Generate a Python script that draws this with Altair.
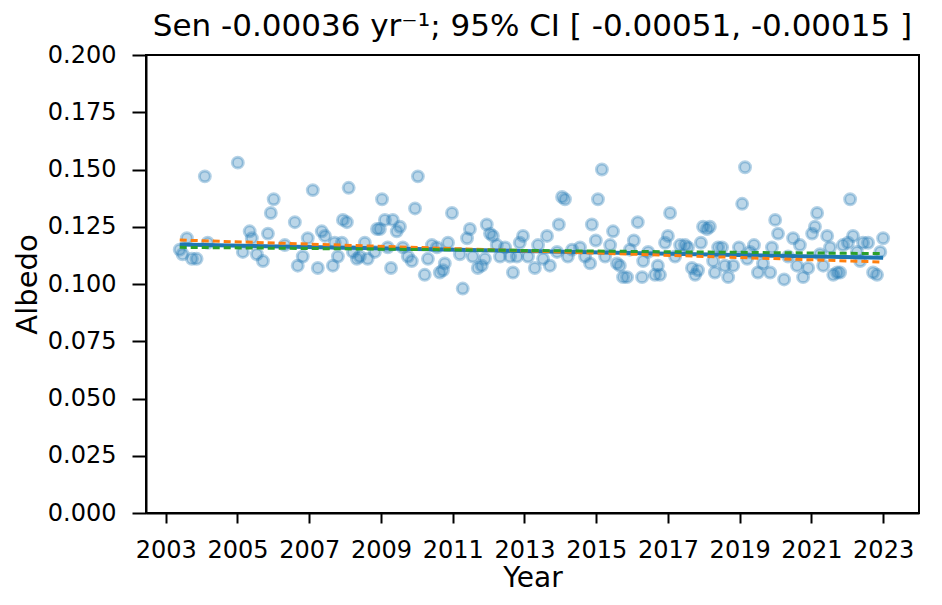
import altair as alt
import pandas as pd

# ---- data ----
years = [
    2003.39, 2003.47, 2003.59, 2003.73, 2003.86, 2004.09, 2004.17, 2005.01, 2005.15, 2005.34,
    2005.40, 2005.54, 2005.71, 2005.85, 2005.93, 2006.01, 2006.32, 2006.60, 2006.68, 2006.82,
    2006.96, 2007.10, 2007.24, 2007.35, 2007.44, 2007.66, 2007.71, 2007.80, 2007.91, 2007.94,
    2008.05, 2008.10, 2008.22, 2008.33, 2008.41, 2008.55, 2008.63, 2008.83, 2008.89, 2008.97,
    2009.03, 2009.11, 2009.19, 2009.28, 2009.33, 2009.44, 2009.53, 2009.61, 2009.75, 2009.86,
    2009.95, 2010.03, 2010.22, 2010.31, 2010.42, 2010.56, 2010.64, 2010.73, 2010.78, 2010.87,
    2010.98, 2011.20, 2011.28, 2011.40, 2011.48, 2011.56, 2011.70, 2011.81, 2011.90, 2011.95,
    2012.04, 2012.12, 2012.23, 2012.32, 2012.46, 2012.60, 2012.68, 2012.79, 2012.87, 2012.96,
    2013.10, 2013.29, 2013.38, 2013.52, 2013.63, 2013.71, 2013.91, 2013.96, 2014.05, 2014.13,
    2014.21, 2014.33, 2014.55, 2014.69, 2014.83, 2014.88, 2014.99, 2015.05, 2015.16, 2015.25,
    2015.39, 2015.47, 2015.58, 2015.66, 2015.75, 2015.86, 2015.94, 2016.05, 2016.16, 2016.28,
    2016.31, 2016.45, 2016.64, 2016.72, 2016.78, 2016.92, 2017.00, 2017.06, 2017.20, 2017.34,
    2017.48, 2017.56, 2017.67, 2017.76, 2017.84, 2017.92, 2017.98, 2018.09, 2018.17, 2018.26,
    2018.31, 2018.40, 2018.51, 2018.59, 2018.68, 2018.82, 2018.98, 2019.07, 2019.15, 2019.21,
    2019.29, 2019.40, 2019.51, 2019.65, 2019.85, 2019.90, 2019.99, 2020.07, 2020.24, 2020.35,
    2020.49, 2020.60, 2020.68, 2020.77, 2020.91, 2021.02, 2021.10, 2021.16, 2021.24, 2021.33,
    2021.44, 2021.52, 2021.61, 2021.72, 2021.80, 2021.88, 2022.02, 2022.08, 2022.16, 2022.27,
    2022.36, 2022.44, 2022.58, 2022.72, 2022.83, 2022.92, 2023.00,
]
albedo = [
    0.115, 0.113, 0.120, 0.111, 0.111, 0.147, 0.118, 0.153, 0.114, 0.123,
    0.120, 0.113, 0.110, 0.122, 0.131, 0.137, 0.117, 0.127, 0.108, 0.112,
    0.120, 0.141, 0.107, 0.123, 0.121, 0.108, 0.118, 0.112, 0.118, 0.128,
    0.127, 0.142, 0.114, 0.111, 0.112, 0.118, 0.111, 0.114, 0.124, 0.124,
    0.137, 0.128, 0.116, 0.107, 0.128, 0.123, 0.125, 0.116, 0.112, 0.110,
    0.133, 0.147, 0.104, 0.111, 0.117, 0.116, 0.105, 0.106, 0.109, 0.118,
    0.131, 0.113, 0.098, 0.120, 0.124, 0.112, 0.107, 0.108, 0.111, 0.126,
    0.122, 0.121, 0.117, 0.112, 0.116, 0.112, 0.105, 0.112, 0.118, 0.121,
    0.112, 0.107, 0.117, 0.111, 0.121, 0.108, 0.114, 0.126, 0.138, 0.137,
    0.112, 0.115, 0.116, 0.112, 0.109, 0.126, 0.119, 0.137, 0.150, 0.112,
    0.117, 0.123, 0.109, 0.108, 0.103, 0.103, 0.115, 0.119, 0.127, 0.103,
    0.110, 0.114, 0.104, 0.108, 0.104, 0.118, 0.121, 0.131, 0.112, 0.117,
    0.117, 0.116, 0.107, 0.104, 0.106, 0.118, 0.125, 0.124, 0.125, 0.110,
    0.105, 0.116, 0.116, 0.108, 0.103, 0.108, 0.116, 0.135, 0.151, 0.111,
    0.114, 0.117, 0.105, 0.109, 0.105, 0.116, 0.128, 0.122, 0.102, 0.112,
    0.120, 0.108, 0.117, 0.103, 0.107, 0.122, 0.125, 0.131, 0.113, 0.108,
    0.121, 0.116, 0.104, 0.105, 0.105, 0.117, 0.118, 0.137, 0.121, 0.114,
    0.110, 0.118, 0.118, 0.105, 0.104, 0.114, 0.120,
]

title_text = "Sen -0.00036 yr\u207b\u00b9; 95% CI [ -0.00051, -0.00015 ]"
x_ticks = list(range(2003, 2024, 2))
y_ticks = [0.0, 0.025, 0.05, 0.075, 0.1, 0.125, 0.15, 0.175, 0.2]

# trend lines: value at first sample and slope per year
fit_names = ["sen", "low", "high"]
fit_start = [0.1172, 0.1192, 0.1160]
fit_slope = [-0.00029, -0.00049, -0.00014]
fit_colors = ["#1f77b4", "#ff7f0e", "#2ca02c"]

t0, t1 = min(years), max(years)
pts = pd.DataFrame({"Year": years, "Albedo": albedo})

FONT = "DejaVu Sans"
xscale = alt.Scale(domain=[2002.45, 2024.0], nice=False, zero=False)
yscale = alt.Scale(domain=[0, 0.2], nice=False)

xaxis = alt.Axis(values=x_ticks, format="d", title="Year", grid=False,
                 labelFontSize=24, titleFontSize=28, tickSize=10, tickWidth=2,
                 labelPadding=15, titlePadding=2, labelFlush=False, labelOverlap=False)
yaxis = alt.Axis(values=y_ticks, format=".3f", title="Albedo", grid=False,
                 labelFontSize=24, titleFontSize=29, tickSize=14, tickWidth=2,
                 labelPadding=16, titlePadding=5, labelOverlap=False)

scatter = alt.Chart(pts).mark_point(
    shape="circle", filled=True, fill="#1f77b4", stroke="#1f77b4",
    fillOpacity=0.3, strokeOpacity=0.33, strokeWidth=3, size=120,
).encode(
    x=alt.X("Year:Q", scale=xscale, axis=xaxis),
    y=alt.Y("Albedo:Q", scale=yscale, axis=yaxis),
)

layers = [scatter]
for name, a, b, c in zip(fit_names, fit_start, fit_slope, fit_colors):
    df = pd.DataFrame({"Year": [t0, t1], "Albedo": [a, a + b * (t1 - t0)], "fit": [name, name]})
    if name == "sen":
        m = alt.Chart(df).mark_line(color=c, strokeWidth=4)
    else:
        m = alt.Chart(df).mark_line(color=c, strokeWidth=3, strokeDash=[7, 4])
    layers.append(m.encode(x=alt.X("Year:Q", scale=xscale), y=alt.Y("Albedo:Q", scale=yscale)))

chart = alt.layer(*layers).properties(
    width=773, height=458,
    title=alt.TitleParams(title_text, fontSize=31, font=FONT, fontWeight="normal",
                          anchor="middle", offset=0, color="black"),
    padding={"left": 138, "top": 47, "right": 15, "bottom": 84},
    autosize=alt.AutoSizeParams(type="none"),
).configure_view(
    stroke="black", strokeWidth=2,
).configure_axis(
    labelFont=FONT, titleFont=FONT, labelColor="black", titleColor="black",
    domainColor="black", domainWidth=2, tickColor="black", titleFontWeight="normal",
)

chart.save("out.html", embed_options={"renderer": "svg", "actions": False})
